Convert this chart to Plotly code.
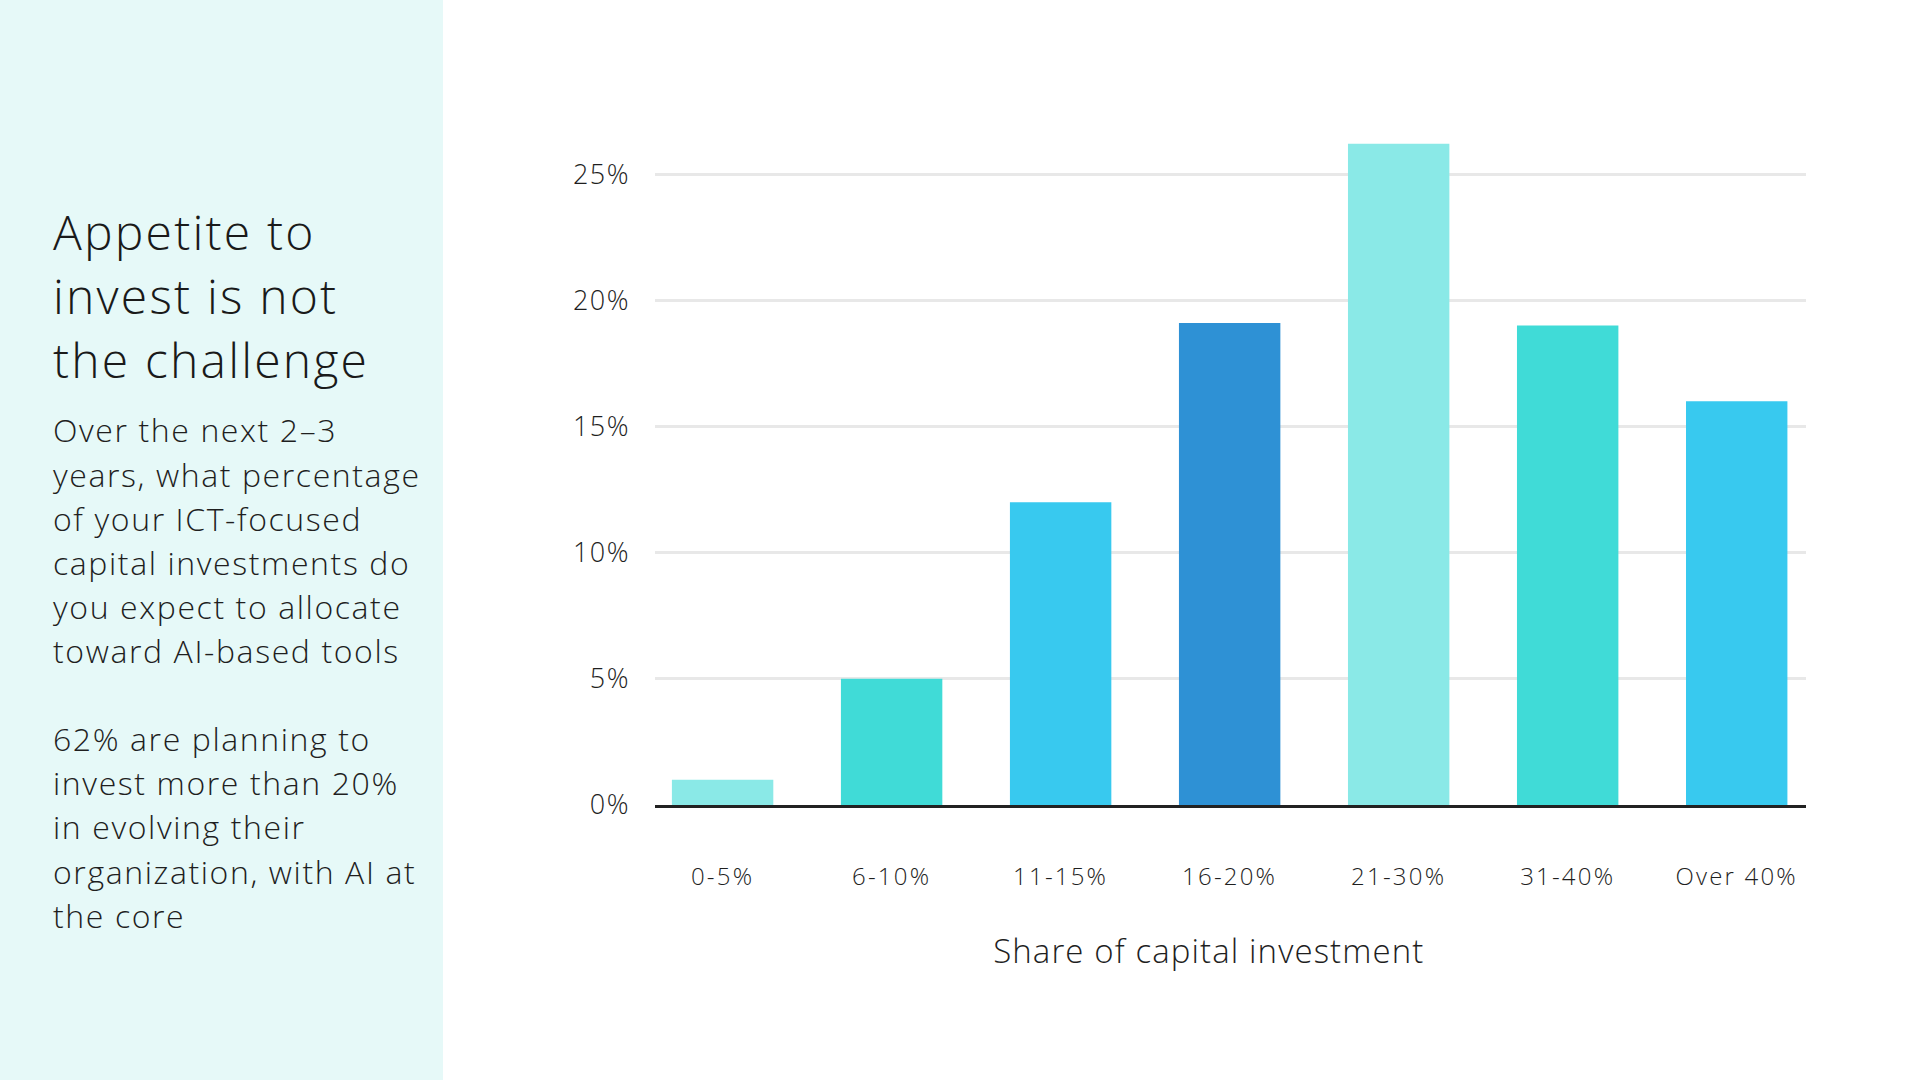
import plotly.graph_objects as go

categories = ["0-5%", "6-10%", "11-15%", "16-20%", "21-30%", "31-40%", "Over 40%"]
values = [1.0, 5.0, 12.0, 19.1, 26.2, 19.0, 16.0]
bar_colors = ["#8AE9E7", "#40DBD7", "#38C9EF", "#2E91D5", "#8AE9E7", "#40DBD7", "#38C9EF"]
y_ticks = [0, 5, 10, 15, 20, 25]
y_tick_labels = ["0%", "5%", "10%", "15%", "20%", "25%"]

title_lines = ["Appetite to", "invest is not", "the challenge"]
body_lines = [
    "Over the next 2–3",
    "years, what percentage",
    "of your ICT-focused",
    "capital investments do",
    "you expect to allocate",
    "toward AI-based tools",
    "",
    "62% are planning to",
    "invest more than 20%",
    "in evolving their",
    "organization, with AI at",
    "the core",
]
x_title = "Share of capital investment"

W, H = 1920, 1080
ML, MR, MT, MB = 655, 114, 111, 275
PW, PH = W - ML - MR, H - MT - MB

def px_x(p):
    return (p - ML) / PW

def px_y(p):
    return (H - MB - p) / PH

FONT = "Open Sans"
TXT = "#1f1f1f"

fig = go.Figure()
fig.add_trace(go.Bar(
    x=categories, y=values,
    marker=dict(color=bar_colors, line=dict(width=0)),
    width=0.6,
    hoverinfo="skip",
))

annotations = []
for i, line in enumerate(title_lines):
    annotations.append(dict(
        text=line, xref="paper", yref="paper", align="left",
        x=px_x(51), y=px_y(231 + 64 * i), xanchor="left", yanchor="middle",
        showarrow=False, font=dict(family=FONT, size=48, color="#1a1a1a", weight=300),
    ))
for i, line in enumerate(body_lines):
    if not line:
        continue
    annotations.append(dict(
        text=line, xref="paper", yref="paper", align="left",
        x=px_x(51), y=px_y(430 + 44.1 * i), xanchor="left", yanchor="middle",
        showarrow=False, font=dict(family=FONT, size=32, color=TXT, weight=300),
    ))
annotations.append(dict(
    text=x_title, xref="paper", yref="paper",
    x=px_x(1209), y=px_y(951), xanchor="center", yanchor="middle",
    showarrow=False, font=dict(family=FONT, size=33, color=TXT, weight=300),
))

fig.update_layout(
    width=W, height=H,
    margin=dict(l=ML, r=MR, t=MT, b=MB),
    paper_bgcolor="white", plot_bgcolor="white",
    showlegend=False,
    shapes=[dict(
        type="rect", xref="paper", yref="paper",
        x0=px_x(-5), x1=px_x(443), y0=px_y(H + 5), y1=px_y(-5),
        fillcolor="#E6F9F8", line=dict(width=0), layer="below",
    )],
    annotations=annotations,
    xaxis=dict(
        range=[-0.4, 6.41], showgrid=False, zeroline=False,
        showline=True, linecolor="#222222", linewidth=3, layer="above traces",
        tickfont=dict(family=FONT, size=24, color=TXT, weight=300),
        ticks="", ticklabelstandoff=48, fixedrange=True,
    ),
    yaxis=dict(
        range=[0, 27.5], tickvals=y_ticks, ticktext=y_tick_labels,
        showgrid=True, gridcolor="#E8E8E8", gridwidth=3,
        zeroline=False, showline=False,
        tickfont=dict(family=FONT, size=27, color=TXT, weight=300),
        ticks="", ticklabelstandoff=24, fixedrange=True,
    ),
)

# letter-spacing (tracking) to mimic the reference typeface
post_js = """
var gd = document.getElementById('{plot_id}');
var spacing = {'48': '2.2px', '32': '1.6px', '33': '1.1px', '24': '2.2px', '27': '1.5px'};
function track() {
  gd.querySelectorAll('text').forEach(function (t) {
    var fs = parseFloat(t.style.fontSize);
    var key = String(Math.round(fs));
    if (spacing[key]) { t.style.letterSpacing = spacing[key]; }
  });
}
track();
if (gd.on) { gd.on('plotly_afterplot', track); }
"""

fig.write_html("out.html", config={"displayModeBar": False}, post_script=post_js)
